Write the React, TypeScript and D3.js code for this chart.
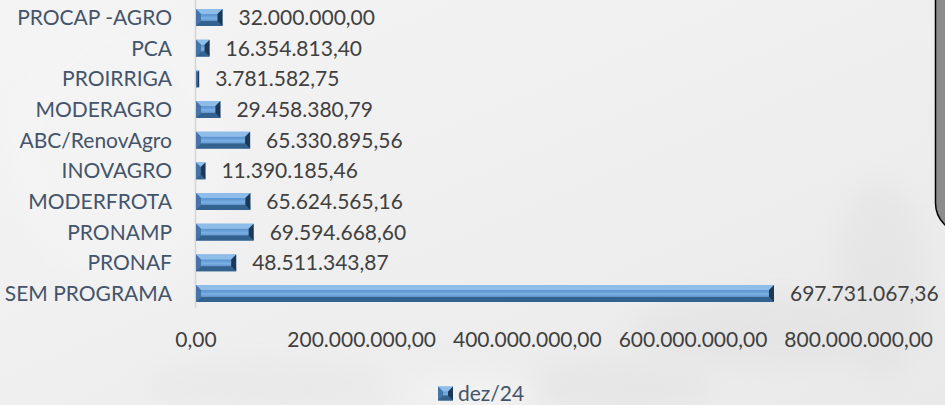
import React from "react";
import * as d3 from "d3";

const categories = [
  "PROCAP -AGRO",
  "PCA",
  "PROIRRIGA",
  "MODERAGRO",
  "ABC/RenovAgro",
  "INOVAGRO",
  "MODERFROTA",
  "PRONAMP",
  "PRONAF",
  "SEM PROGRAMA",
];
const values = [
  32000000.0, 16354813.4, 3781582.75, 29458380.79, 65330895.56, 11390185.46,
  65624565.16, 69594668.6, 48511343.87, 697731067.36,
];
const xTicks = [0, 200000000, 400000000, 600000000, 800000000];
const seriesName = "dez/24";

const W = 945;
const H = 405;
const FONT = "Lato, 'Open Sans', sans-serif";

const br = d3.formatLocale({
  decimal: ",",
  thousands: ".",
  grouping: [3],
  currency: ["R$", ""],
});
const fmt = br.format(",.2f");

function Bar({ x0, x1, y0, y1 }: { x0: number; x1: number; y0: number; y1: number }) {
  const w = x1 - x0;
  const h = y1 - y0;
  const b = Math.max(0, Math.min(5, w / 2, h / 2));
  const pts = (arr: number[][]) => arr.map((p) => p.join(",")).join(" ");
  return (
    <g>
      <rect x={x0} y={y0} width={w} height={h} fill="url(#barFace)" />
      <polygon
        points={pts([[x0, y0], [x1, y0], [x1 - b, y0 + b], [x0 + b, y0 + b]])}
        fill="#8FBDEA"
      />
      <polygon
        points={pts([[x0, y1], [x1, y1], [x1 - b, y1 - b], [x0 + b, y1 - b]])}
        fill="#34628F"
      />
      <polygon
        points={pts([[x0, y0], [x0 + b, y0 + b], [x0 + b, y1 - b], [x0, y1]])}
        fill="#4474A8"
      />
      <polygon
        points={pts([[x1, y0], [x1 - b, y0 + b], [x1 - b, y1 - b], [x1, y1]])}
        fill="#1C3854"
      />
    </g>
  );
}

export default function App() {
  const x = d3.scaleLinear().domain([0, 800000000]).range([196, 858.7]);
  const y = d3
    .scaleBand<string>()
    .domain(categories)
    .range([2.2, 308.8])
    .paddingInner(0.45)
    .paddingOuter(0.225);
  const bw = y.bandwidth();

  return (
    <svg
      width={W}
      height={H}
      style={{ position: "absolute", left: 0, top: 0, display: "block" }}
      fontFamily={FONT}
    >
      <defs>
        <linearGradient id="bg" x1="0" y1="0" x2="1" y2="1">
          <stop offset="0" stopColor="#F4F4F4" />
          <stop offset="0.5" stopColor="#EFEFEF" />
          <stop offset="1" stopColor="#E9E9E9" />
        </linearGradient>
        <linearGradient id="barFace" x1="0" y1="0" x2="0" y2="1">
          <stop offset="0" stopColor="#72A7DD" />
          <stop offset="0.35" stopColor="#5E96D1" />
          <stop offset="0.55" stopColor="#7BB0E4" />
          <stop offset="0.8" stopColor="#4E83BB" />
          <stop offset="1" stopColor="#3D6B9B" />
        </linearGradient>
        <filter id="blur" x="-20%" y="-20%" width="140%" height="140%">
          <feGaussianBlur stdDeviation="12" />
        </filter>
      </defs>

      {/* background */}
      <rect x={0} y={0} width={W} height={H} fill="url(#bg)" />
      <g filter="url(#blur)" opacity={0.35}>
        <ellipse cx={780} cy={330} rx={150} ry={35} fill="#DADADA" />
        <ellipse cx={880} cy={280} rx={45} ry={100} fill="#DCDCDC" />
        <ellipse cx={620} cy={385} rx={90} ry={25} fill="#DDDDDD" />
        <ellipse cx={470} cy={395} rx={70} ry={25} fill="#FAFAFA" />
        <ellipse cx={260} cy={385} rx={120} ry={25} fill="#E2E2E2" />
        <ellipse cx={120} cy={150} rx={110} ry={140} fill="#F7F7F7" />
      </g>

      {/* right box */}
      <rect
        x={935.5}
        y={-40}
        width={80}
        height={273}
        rx={30}
        ry={30}
        fill="#8C8C8C"
        stroke="#000"
        strokeWidth={1.5}
      />

      {/* axis line */}
      <line x1={195.5} x2={195.5} y1={0} y2={308} stroke="#D4D4D4" strokeWidth={1.5} />

      {/* bars */}
      {categories.map((c, i) => {
        const y0 = y(c)!;
        return <Bar key={c} x0={x(0)} x1={x(values[i])} y0={y0} y1={y0 + bw} />;
      })}

      {/* category labels */}
      {categories.map((c) => (
        <text
          key={"c" + c}
          x={172}
          y={y(c)! + bw / 2 + 7.5}
          textAnchor="end"
          fontSize={21}
          fill="#44546A"
        >
          {c}
        </text>
      ))}

      {/* data labels */}
      {categories.map((c, i) => (
        <text
          key={"v" + c}
          x={x(values[i]) + 16}
          y={y(c)! + bw / 2 + 7.5}
          textAnchor="start"
          fontSize={21}
          fill="#404040"
        >
          {fmt(values[i])}
        </text>
      ))}

      {/* x tick labels */}
      {xTicks.map((t) => (
        <text key={"t" + t} x={x(t)} y={347} textAnchor="middle" fontSize={21} fill="#404040">
          {fmt(t)}
        </text>
      ))}

      {/* legend */}
      <g>
        <Bar x0={438} x1={453} y0={386.5} y1={400.5} />
        <text x={458} y={400.5} fontSize={21} fill="#44546A">
          {seriesName}
        </text>
      </g>
    </svg>
  );
}
